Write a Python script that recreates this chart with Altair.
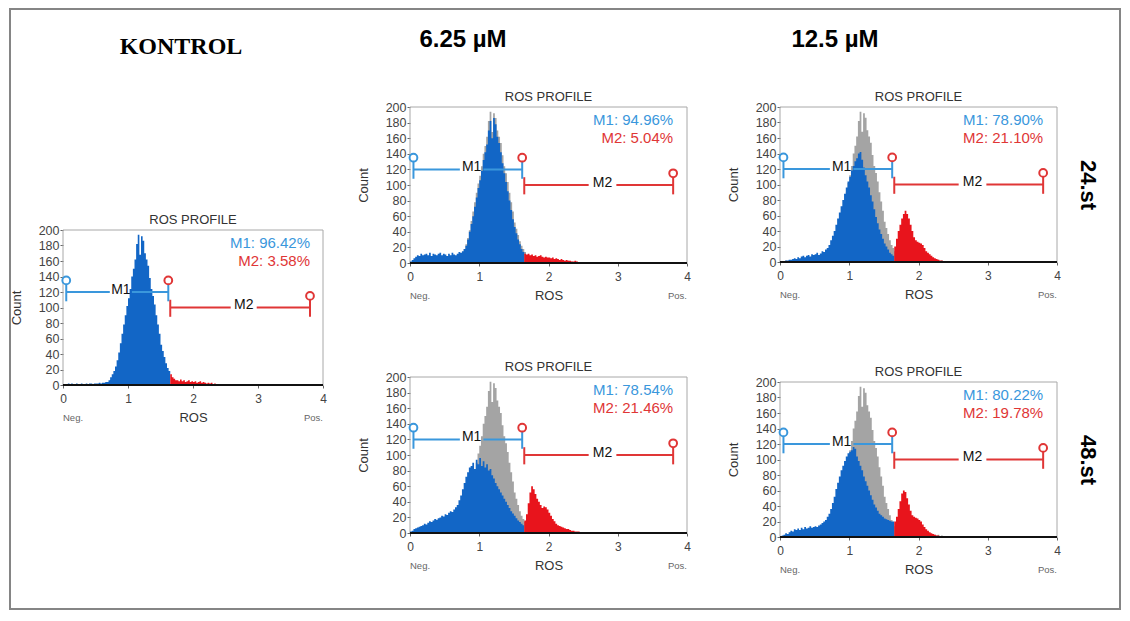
import altair as alt
import pandas as pd

# ---------------- data ----------------
BIN_WIDTH = 0.025          # ROS bin width of the histograms
GATE_SPLIT = 1.65          # first bin that belongs to marker M2

kontrol_counts = [
    0, 1, 1, 2, 1, 2, 1, 1, 2, 1,
    1, 2, 1, 1, 2, 1, 2, 2, 1, 2,
    2, 2, 3, 2, 3, 3, 4, 4, 6, 10,
    14, 18, 24, 32, 42, 54, 66, 78, 90, 102,
    112, 124, 140, 150, 162, 182, 194, 168, 192, 186,
    170, 162, 154, 138, 124, 115, 104, 90, 78, 66,
    52, 44, 36, 28, 22, 18, 14, 10, 8, 6,
    6, 5, 7, 5, 6, 4, 5, 6, 4, 5,
    4, 5, 3, 4, 5, 3, 4, 3, 2, 3,
    2, 3, 1, 2, 1, 1, 1, 0, 1, 0,
]
uM625_24h_counts = [
    2, 4, 6, 8, 10, 9, 12, 10, 11, 12,
    10, 13, 9, 12, 11, 10, 12, 13, 10, 12,
    11, 9, 12, 10, 13, 11, 10, 12, 14, 13,
    15, 18, 22, 30, 40, 50, 60, 72, 84, 96,
    106, 118, 132, 142, 152, 170, 182, 160, 186, 178,
    162, 154, 142, 128, 115, 104, 92, 80, 68, 56,
    46, 38, 30, 24, 18, 14, 12, 11, 12, 10,
    11, 9, 10, 8, 9, 10, 8, 7, 8, 7,
    7, 6, 7, 5, 6, 5, 4, 5, 4, 3,
    4, 3, 3, 2, 2, 3, 2, 1, 1, 1,
]
uM125_24h_counts = [
    0, 1, 1, 2, 2, 3, 3, 4, 5, 4,
    6, 5, 7, 8, 6, 8, 9, 7, 10, 9,
    10, 12, 9, 11, 14, 13, 16, 18, 22, 28,
    34, 40, 48, 56, 64, 72, 80, 88, 96, 104,
    110, 118, 124, 130, 134, 140, 142, 132, 122, 112,
    104, 96, 86, 78, 68, 58, 50, 42, 36, 30,
    24, 20, 16, 12, 10, 8, 20, 30, 40, 48,
    56, 62, 66, 62, 56, 48, 40, 32, 28, 26,
    25, 24, 22, 18, 14, 12, 10, 8, 6, 5,
    4, 3, 2, 2, 1, 1, 1, 0, 0, 0,
]
uM625_48h_counts = [
    2, 3, 5, 6, 7, 8, 9, 10, 12, 11,
    13, 15, 14, 16, 18, 17, 19, 20, 22, 21,
    24, 23, 26, 28, 27, 30, 33, 36, 42, 48,
    56, 64, 72, 78, 84, 86, 90, 82, 94, 88,
    96, 86, 92, 84, 88, 80, 82, 74, 70, 64,
    60, 56, 52, 48, 44, 40, 36, 32, 28, 25,
    22, 19, 16, 14, 12, 10, 16, 24, 38, 52,
    60, 56, 50, 44, 40, 36, 32, 34, 33, 30,
    26, 22, 18, 15, 12, 10, 9, 8, 7, 6,
    5, 5, 4, 3, 3, 2, 2, 2, 1, 1,
]
uM125_48h_counts = [
    1, 2, 3, 5, 4, 6, 8, 7, 10, 9,
    11, 9, 12, 10, 13, 11, 12, 14, 12, 13,
    14, 13, 15, 16, 18, 20, 22, 26, 30, 36,
    44, 52, 62, 70, 78, 86, 92, 98, 104, 108,
    110, 112, 116, 114, 104, 98, 92, 86, 78, 72,
    66, 60, 54, 48, 42, 38, 34, 30, 28, 26,
    24, 23, 22, 21, 20, 20, 20, 26, 36, 46,
    56, 60, 58, 50, 42, 34, 28, 26, 25, 24,
    22, 20, 16, 13, 10, 8, 6, 5, 4, 3,
    2, 2, 1, 1, 1, 1, 0, 0, 0, 0,
]

column_headers = ["KONTROL", "6.25 µM", "12.5 µM"]
row_labels = ["24.st", "48.st"]
panel_title = "ROS PROFILE"
m1_percent = ["M1: 96.42%", "M1: 94.96%", "M1: 78.90%", "M1: 78.54%", "M1: 80.22%"]
m2_percent = ["M2: 3.58%", "M2: 5.04%", "M2: 21.10%", "M2: 21.46%", "M2: 19.78%"]

x_ticks = [0, 1, 2, 3, 4]
y_ticks = [0, 20, 40, 60, 80, 100, 120, 140, 160, 180, 200]
end_labels = ["Neg.", "Pos."]
end_label_x = [0, 4]

# marker (gate) geometry in data units
m1_segments = [(0.05, 0.72), (1.06, 1.62)]
m2_segments = [(1.65, 2.58), (2.98, 3.80)]
m1_level, m2_level = 120, 100
m1_ends = [0.05, 1.62]
m2_ends = [1.65, 3.80]
m1_handles = [(0.05, 135)]
mid_handles = [(1.62, 135)]
m2_handles = [(3.80, 115)]
m1_label = (0.89, 118)
m2_label = (2.78, 98)
pct_x, pct_y1, pct_y2 = 3.8, 183, 160

# ---------------- styles & page layout (pixels) ----------------
SANS = "Liberation Sans"
SERIF = "Liberation Serif"
BLUE = "#1266c6"
RED = "#e8141c"
GRAY = "#a4a4a4"
GATE_BLUE = "#3a97dc"
GATE_RED = "#e03636"
FRAME = "#858585"
WHITE = "#ffffff"

FL, FT, FR, FB = 9, 8, 1121, 610      # outer frame box on the page
COL_A, COL_B, ROW_M, KROW = 340, 722, 322, 157
T = 2                                  # frame thickness
ORIG = {"S0": (63, 107), "K": (63, 230), "P1": (410, 107), "P3": (410, 377),
        "P2": (780, 107), "P4": (780, 382)}

ONE = pd.DataFrame({"z": [0]})


def hist_df(counts):
    xs = [round(i * BIN_WIDTH, 4) for i in range(len(counts))] + [round(len(counts) * BIN_WIDTH, 4)]
    return pd.DataFrame({"x": xs, "count": list(counts) + [0]})


def box(key, x1, y1, x2, y2, color=FRAME):
    ox, oy = ORIG[key]
    return alt.Chart(ONE).mark_rect(color=color, strokeWidth=0).encode(
        x=alt.value(x1 - ox), x2=alt.value(x2 - ox), y=alt.value(y1 - oy), y2=alt.value(y2 - oy))


def header_text(key, header, page_xy):
    ox, oy = ORIG[key]
    serif = header == "KONTROL"
    d = pd.DataFrame({"t": [header]})
    return alt.Chart(d).mark_text(font=SERIF if serif else SANS, fontSize=24,
                                  fontWeight="bold", color="#000", baseline="middle").encode(
        x=alt.value(page_xy[0] - ox), y=alt.value(page_xy[1] - oy), text="t:N")


def panel(counts, gray, idx, w, h, frame, header=None, row_label=None):
    xs = alt.Scale(domain=[0, 4], nice=False, zero=False)
    ys = alt.Scale(domain=[0, 200], nice=False, zero=True)
    xaxis = alt.Axis(orient="bottom", values=x_ticks, format="d", title="ROS",
                     titleX=w / 2, titleY=32, titleBaseline="middle", titleFont=SANS,
                     titleFontSize=13, titleFontWeight="normal", titleColor="#333",
                     labelFont=SANS, labelFontSize=12, labelColor="#444", labelPadding=5,
                     labelFlush=False, tickSize=3, tickColor="#666", domain=False, grid=False)
    yaxis = alt.Axis(orient="left", values=y_ticks, format="d", title="Count",
                     titleX=-47, titleY=h / 2, titleAngle=270, titleBaseline="middle",
                     titleAlign="center", titleFont=SANS, titleFontSize=13,
                     titleFontWeight="normal", titleColor="#333",
                     labelFont=SANS, labelFontSize=12.5, labelColor="#444", labelPadding=1,
                     labelOverlap=False, labelFlush=False, tickSize=3, tickColor="#666",
                     domain=False, grid=False)
    df = hist_df(counts)
    blue = df[df["x"] <= GATE_SPLIT + 1e-9]
    red = df[df["x"] >= GATE_SPLIT - 1e-9]
    layers = []
    # plot box
    pb = pd.DataFrame({"a": [x_ticks[0]], "b": [x_ticks[-1]], "c": [y_ticks[0]], "d": [y_ticks[-1]]})
    layers.append(alt.Chart(pb).mark_rect(filled=False, stroke="#a8a8a8", strokeWidth=1).encode(
        x=alt.X("a:Q", scale=xs, axis=None), x2="b:Q", y=alt.Y("c:Q", scale=ys, axis=None), y2="d:Q"))
    if gray is not None:
        layers.append(alt.Chart(hist_df(gray)).mark_area(interpolate="step-after", color=GRAY).encode(
            x=alt.X("x:Q", scale=xs, axis=None), y=alt.Y("count:Q", scale=ys, axis=None)))
    layers.append(alt.Chart(blue).mark_area(interpolate="step-after", color=BLUE).encode(
        x=alt.X("x:Q", scale=xs, axis=xaxis), y=alt.Y("count:Q", scale=ys, axis=yaxis)))
    layers.append(alt.Chart(red).mark_area(interpolate="step-after", color=RED).encode(
        x=alt.X("x:Q", scale=xs, axis=None), y=alt.Y("count:Q", scale=ys, axis=None)))
    base = pd.DataFrame({"a": [x_ticks[0]], "b": [x_ticks[-1]], "y": [0]})
    layers.append(alt.Chart(base).mark_rule(color="#111", strokeWidth=2).encode(
        x=alt.X("a:Q", scale=xs, axis=None), x2="b:Q", y=alt.Y("y:Q", scale=ys, axis=None)))

    # markers
    def hsegs(segs, level, color):
        d = pd.DataFrame({"a": [s[0] for s in segs], "b": [s[1] for s in segs], "y": [level] * len(segs)})
        return alt.Chart(d).mark_rule(color=color, strokeWidth=2).encode(
            x=alt.X("a:Q", scale=xs, axis=None), x2="b:Q", y=alt.Y("y:Q", scale=ys, axis=None))

    def vticks(ends, level, color):
        d = pd.DataFrame({"x": ends, "a": [level - 12] * len(ends), "b": [level + 10] * len(ends)})
        return alt.Chart(d).mark_rule(color=color, strokeWidth=2).encode(
            x=alt.X("x:Q", scale=xs, axis=None), y=alt.Y("a:Q", scale=ys, axis=None), y2="b:Q")

    def handles(pts, color):
        d = pd.DataFrame({"x": [p[0] for p in pts], "y": [p[1] for p in pts]})
        return alt.Chart(d).mark_point(shape="circle", filled=False, fill="white", fillOpacity=1,
                                       color=color, strokeWidth=2, size=60, opacity=1).encode(
            x=alt.X("x:Q", scale=xs, axis=None), y=alt.Y("y:Q", scale=ys, axis=None))

    layers += [hsegs(m2_segments, m2_level, GATE_RED), vticks(m2_ends, m2_level, GATE_RED),
               hsegs(m1_segments, m1_level, GATE_BLUE), vticks(m1_ends, m1_level, GATE_BLUE),
               handles(m1_handles, GATE_BLUE), handles(mid_handles, GATE_RED),
               handles(m2_handles, GATE_RED)]

    lab = pd.DataFrame({"x": [m1_label[0], m2_label[0]], "y": [m1_label[1], m2_label[1]], "t": ["M1", "M2"]})
    layers.append(alt.Chart(lab).mark_text(font=SANS, fontSize=14, color="#111", baseline="alphabetic").encode(
        x=alt.X("x:Q", scale=xs, axis=None), y=alt.Y("y:Q", scale=ys, axis=None), text="t:N"))
    for txt, yv, col in [(m1_percent[idx], pct_y1, GATE_BLUE), (m2_percent[idx], pct_y2, GATE_RED)]:
        d = pd.DataFrame({"x": [pct_x], "y": [yv], "t": [txt]})
        layers.append(alt.Chart(d).mark_text(font=SANS, fontSize=15, color=col, align="right",
                                             baseline="middle").encode(
            x=alt.X("x:Q", scale=xs, axis=None), y=alt.Y("y:Q", scale=ys, axis=None), text="t:N"))
    for lbl, xv, al in [(end_labels[0], end_label_x[0], "left"), (end_labels[1], end_label_x[1], "right")]:
        d = pd.DataFrame({"x": [xv], "t": [lbl]})
        layers.append(alt.Chart(d).mark_text(font=SANS, fontSize=9.5, color="#666", align=al,
                                             baseline="middle").encode(
            x=alt.X("x:Q", scale=xs, axis=None), y=alt.value(h + 33), text="t:N"))

    # panel title, centred over the ROS axis
    d = pd.DataFrame({"x": [(x_ticks[0] + x_ticks[-1]) / 2], "t": [panel_title]})
    layers.append(alt.Chart(d).mark_text(font=SANS, fontSize=13, color="#333", baseline="middle").encode(
        x=alt.X("x:Q", scale=xs, axis=None), y=alt.value(-10), text="t:N"))

    if header is not None:
        layers.append(header)

    # row label as a right-hand axis title
    if row_label is not None:
        rax = alt.Axis(orient="right", title=row_label, labels=False, ticks=False, domain=False,
                       grid=False, titleX=30, titleY=h / 2, titleAngle=90, titleAlign="center",
                       titleBaseline="middle", titleFont=SANS, titleFontSize=22,
                       titleFontWeight="bold", titleColor="#000")
        layers.append(alt.Chart(ONE).mark_point(opacity=0).encode(
            x=alt.X("z:Q", scale=xs, axis=None), y=alt.Y("z:Q", scale=ys, axis=rax)))

    # page frame pieces (they also fix the layout of the grid cells)
    layers += frame

    return alt.layer(*layers).properties(width=w, height=h).resolve_axis(x="independent", y="independent")


S0 = alt.layer(
    box("S0", FL, FT, FL + T, KROW),
    box("S0", FL, FT, COL_A, FT + T),
    header_text("S0", column_headers[0], (181, 47)),
).properties(width=260, height=1)

K = panel(kontrol_counts, None, 0, 260, 155,
          frame=[box("K", FL, KROW, FL + T, FB),
                 box("K", FL, FB - T, COL_A, FB)])
P1 = panel(uM625_24h_counts, kontrol_counts, 1, 277, 156,
           frame=[box("P1", COL_A, FT, COL_B, FT + T),
                  box("P1", COL_A, FT + T, COL_A + 1, ROW_M, WHITE)],
           header=header_text("P1", column_headers[1], (463, 40)))
P3 = panel(uM625_48h_counts, kontrol_counts, 3, 277, 156,
           frame=[box("P3", COL_A, ROW_M, COL_A + 1, FB - T, WHITE),
                  box("P3", COL_A, FB - T, COL_B, FB)])
P2 = panel(uM125_24h_counts, kontrol_counts, 2, 277, 155,
           frame=[box("P2", COL_B, FT, FR, FT + T),
                  box("P2", FR - T, FT, FR, ROW_M)],
           header=header_text("P2", column_headers[2], (835, 40)), row_label=row_labels[0])
P4 = panel(uM125_48h_counts, kontrol_counts, 4, 277, 155,
           frame=[box("P4", FR - T, ROW_M, FR, FB),
                  box("P4", COL_B, FB - T, FR, FB)],
           row_label=row_labels[1])

chart = alt.hconcat(
    alt.vconcat(S0, K, spacing=0),
    alt.vconcat(P1, P3, spacing=0),
    alt.vconcat(P2, P4, spacing=0),
    spacing=0,
).properties(
    padding={"left": FL - 8, "top": 0, "right": 0, "bottom": 0},
    background="white",
).configure_view(stroke=None)

chart.save("out.html", embed_options={"renderer": "svg", "actions": False})
